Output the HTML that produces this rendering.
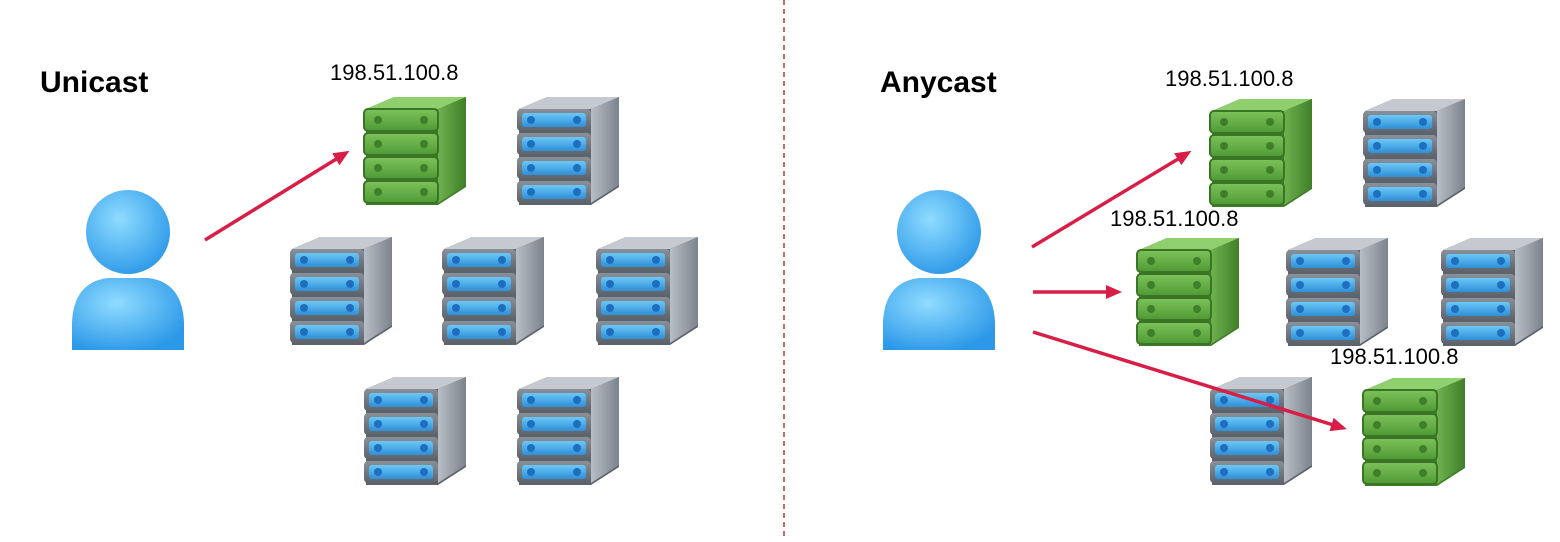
<!DOCTYPE html>
<html><head><style>
body{margin:0;width:1560px;height:537px;background:#fff;overflow:hidden;font-family:"Liberation Sans",sans-serif}
</style></head><body>
<svg width="1560" height="537" viewBox="0 0 1560 537" xmlns="http://www.w3.org/2000/svg">
<defs>
<linearGradient id="gf" x1="0" y1="0" x2="0" y2="1"><stop offset="0" stop-color="#7dc25a"/><stop offset="1" stop-color="#4f9a35"/></linearGradient>
<linearGradient id="gs" x1="0" y1="0" x2="1" y2="0"><stop offset="0" stop-color="#6fb24e"/><stop offset="1" stop-color="#3f7f2a"/></linearGradient>
<linearGradient id="bf" x1="0" y1="0" x2="0" y2="1"><stop offset="0" stop-color="#8a9099"/><stop offset="1" stop-color="#5d636b"/></linearGradient>
<linearGradient id="bs" x1="0" y1="0" x2="1" y2="0"><stop offset="0" stop-color="#b8bec6"/><stop offset="1" stop-color="#7c838c"/></linearGradient>
<linearGradient id="bb" x1="0" y1="0" x2="0" y2="1"><stop offset="0" stop-color="#6cc8f5"/><stop offset="1" stop-color="#2f8fd8"/></linearGradient>
<radialGradient id="pp" cx="0.4" cy="0.35" r="0.7"><stop offset="0" stop-color="#8fdcff"/><stop offset="1" stop-color="#2c98e8"/></radialGradient>
<g id="green">
<path d="M4 12 L32 0 L104 0 L104 90 L76 108 L4 108 Z" fill="#3f7f2a"/>
<path d="M4 12 L32 0 L104 0 L76 12 Z" fill="#8fcf6d"/>
<path d="M76 12 L104 0 L104 88 L76 106 Z" fill="url(#gs)"/>
<g fill="url(#gf)" stroke="#3a7525" stroke-width="2">
<rect x="2" y="12" width="74" height="22" rx="4"/><rect x="2" y="36" width="74" height="22" rx="4"/><rect x="2" y="60" width="74" height="22" rx="4"/><rect x="2" y="84" width="74" height="22" rx="4"/></g>
<g fill="#3f7f2a"><circle cx="16" cy="23" r="4"/><circle cx="62" cy="23" r="4"/><circle cx="16" cy="47" r="4"/><circle cx="62" cy="47" r="4"/><circle cx="16" cy="71" r="4"/><circle cx="62" cy="71" r="4"/><circle cx="16" cy="95" r="4"/><circle cx="62" cy="95" r="4"/></g>
</g>
<g id="blue">
<path d="M4 12 L32 0 L104 0 L104 90 L76 108 L4 108 Z" fill="#5d636b"/>
<path d="M4 12 L32 0 L104 0 L76 12 Z" fill="#c5cad1"/>
<path d="M76 12 L104 0 L104 88 L76 106 Z" fill="url(#bs)"/>
<g fill="url(#bf)"><rect x="2" y="12" width="74" height="22" rx="4"/><rect x="2" y="36" width="74" height="22" rx="4"/><rect x="2" y="60" width="74" height="22" rx="4"/><rect x="2" y="84" width="74" height="22" rx="4"/></g>
<g fill="url(#bb)"><rect x="7" y="16" width="64" height="14" rx="3"/><rect x="7" y="40" width="64" height="14" rx="3"/><rect x="7" y="64" width="64" height="14" rx="3"/><rect x="7" y="88" width="64" height="14" rx="3"/></g>
<g fill="#1e6fbf"><circle cx="16" cy="23" r="4"/><circle cx="62" cy="23" r="4"/><circle cx="16" cy="47" r="4"/><circle cx="62" cy="47" r="4"/><circle cx="16" cy="71" r="4"/><circle cx="62" cy="71" r="4"/><circle cx="16" cy="95" r="4"/><circle cx="62" cy="95" r="4"/></g>
</g>
<g id="person">
<path d="M-56 118 L-56 90 Q-54 50 -20 46 L20 46 Q54 50 56 90 L56 118 Z" fill="url(#pp)"/>
<circle cx="0" cy="0" r="42" fill="url(#pp)"/>
</g>
<marker id="ah" markerWidth="16" markerHeight="14" refX="12" refY="7" orient="auto" markerUnits="userSpaceOnUse"><path d="M0 0 L16 7 L0 14 Z" fill="#d81e47"/></marker>
</defs>
<line x1="784" y1="0" x2="784" y2="537" stroke="#c0392b" stroke-width="1.5" stroke-dasharray="5,4"/>
<text x="40" y="92" font-size="30" font-weight="bold" fill="#000">Unicast</text>
<text x="880" y="92" font-size="30" font-weight="bold" fill="#000">Anycast</text>
<g font-size="22" fill="#000">
<text x="330" y="80">198.51.100.8</text>
<text x="1165" y="86">198.51.100.8</text>
<text x="1110" y="226">198.51.100.8</text>
<text x="1330" y="364">198.51.100.8</text>
</g>
<use href="#person" x="128" y="232"/>
<use href="#person" x="939" y="232"/>
<use href="#green" x="362" y="97"/>
<use href="#blue" x="515" y="97"/>
<use href="#blue" x="288" y="237"/>
<use href="#blue" x="440" y="237"/>
<use href="#blue" x="594" y="237"/>
<use href="#blue" x="362" y="377"/>
<use href="#blue" x="515" y="377"/>
<use href="#green" x="1208" y="99"/>
<use href="#blue" x="1361" y="99"/>
<use href="#green" x="1135" y="238"/>
<use href="#blue" x="1284" y="238"/>
<use href="#blue" x="1439" y="238"/>
<use href="#blue" x="1208" y="377"/>
<use href="#green" x="1361" y="378"/>
<g stroke="#d81e47" stroke-width="3.5" marker-end="url(#ah)">
<line x1="205" y1="240" x2="346" y2="153"/>
<line x1="1032" y1="247" x2="1188" y2="153"/>
<line x1="1033" y1="292" x2="1118" y2="292"/>
<line x1="1033" y1="332" x2="1343" y2="428"/>
</g>
</svg>
</body></html>
